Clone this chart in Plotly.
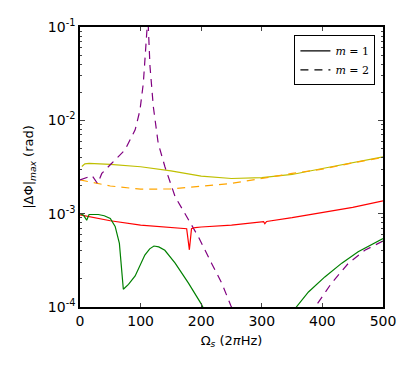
import plotly.graph_objects as go

# m=1 (solid) curves
x_yellow = [3, 8, 15, 50, 100, 150, 200, 250, 300, 350, 400, 450, 500]
y_yellow = [3.2e-3, 3.42e-3, 3.45e-3, 3.38e-3, 3.18e-3, 2.88e-3, 2.52e-3, 2.38e-3, 2.43e-3, 2.63e-3, 3.05e-3, 3.52e-3, 4.07e-3]

x_red = [0, 50, 100, 150, 170, 176, 180.5, 184, 190, 200, 250, 300, 303, 305, 308, 350, 400, 450, 500]
y_red = [9.7e-4, 8.4e-4, 7.55e-4, 7.1e-4, 7.0e-4, 6.9e-4, 4.1e-4, 6.9e-4, 7.1e-4, 7.2e-4, 7.55e-4, 8.15e-4, 8.2e-4, 7.8e-4, 8.25e-4, 9.05e-4, 1.02e-3, 1.17e-3, 1.37e-3]

x_green = [0, 6, 11, 15, 30, 40, 50, 58, 65, 71.5, 80, 91, 107, 115, 122, 130, 140, 157, 179, 200, 220, 250, 290, 330, 357, 377, 404, 432, 459, 500]
y_green = [1.0e-3, 9.6e-4, 8.5e-4, 9.8e-4, 9.8e-4, 9.5e-4, 8.9e-4, 7.3e-4, 4.8e-4, 1.55e-4, 1.75e-4, 2.15e-4, 3.6e-4, 4.2e-4, 4.5e-4, 4.4e-4, 4.05e-4, 2.95e-4, 1.8e-4, 1.08e-4, 6e-5, 3e-5, 2e-5, 4e-5, 1.0e-4, 1.45e-4, 2.1e-4, 2.95e-4, 3.9e-4, 5.4e-4]

# m=2 (dashed) curves
x_orange = [0, 25, 50, 100, 150, 200, 250, 300, 350, 400, 450, 500]
y_orange = [2.3e-3, 2.12e-3, 1.98e-3, 1.83e-3, 1.84e-3, 1.97e-3, 2.11e-3, 2.38e-3, 2.7e-3, 3.0e-3, 3.5e-3, 4.0e-3]

x_purple = [0, 20, 29, 36, 52, 74, 91, 99, 104.5, 108.5, 112, 115.5, 121, 129, 140, 157, 173, 195, 217, 234, 249, 280, 330, 388, 415, 443, 470, 500]
y_purple = [2.3e-3, 2.55e-3, 2.1e-3, 2.7e-3, 3.45e-3, 4.8e-3, 7.9e-3, 1.29e-2, 2.5e-2, 5.7e-2, 1.3e-1, 3.8e-2, 1.4e-2, 5.7e-3, 3.2e-3, 1.52e-3, 1.0e-3, 5.7e-4, 2.95e-4, 1.8e-4, 1.03e-4, 4e-5, 2e-5, 1.0e-4, 1.8e-4, 2.95e-4, 4.05e-4, 5.1e-4]

ytick_vals = [1e-4, 1e-3, 1e-2, 1e-1]
ytick_text = ["10<sup>-4</sup>", "10<sup>-3</sup>", "10<sup>-2</sup>", "10<sup>-1</sup>"]
minor_y = [k * 10.0 ** e for e in (-4, -3, -2) for k in range(2, 10)]

dash = "8px,6px"

fig = go.Figure()
fig.add_trace(go.Scatter(x=x_yellow, y=y_yellow, mode="lines", line=dict(color="#bfbf00", width=1.2), showlegend=False))
fig.add_trace(go.Scatter(x=x_orange, y=y_orange, mode="lines", line=dict(color="#ffa500", width=1.2, dash=dash), showlegend=False))
fig.add_trace(go.Scatter(x=x_purple, y=y_purple, mode="lines", line=dict(color="#800080", width=1.2, dash=dash), showlegend=False))
fig.add_trace(go.Scatter(x=x_red, y=y_red, mode="lines", line=dict(color="#ff0000", width=1.2), showlegend=False))
fig.add_trace(go.Scatter(x=x_green, y=y_green, mode="lines", line=dict(color="#008000", width=1.2), showlegend=False))

# legend entries (black)
fig.add_trace(go.Scatter(x=[None], y=[None], mode="lines", line=dict(color="black", width=1.2), name="<i>m</i> = 1"))
fig.add_trace(go.Scatter(x=[None], y=[None], mode="lines", line=dict(color="black", width=1.2, dash=dash), name="<i>m</i> = 2"))

# page body has an 8px default margin, so the figure is a bit smaller
fig.update_layout(
    width=407, height=361,
    margin=dict(l=72, r=32, t=19, b=62),
    paper_bgcolor="white", plot_bgcolor="white",
    font=dict(family="DejaVu Sans", size=14, color="black"),
    legend=dict(x=0.975, y=0.97, xanchor="right", yanchor="top",
                bordercolor="black", borderwidth=1, bgcolor="white",
                font=dict(family="DejaVu Serif", size=11), tracegroupgap=0),
)
fig.update_xaxes(
    range=[0, 500], tickvals=[0, 100, 200, 300, 400, 500], automargin=False,
    ticks="inside", ticklen=4, showgrid=False, zeroline=False,
    showline=True, linecolor="black", linewidth=1.5, mirror="ticks",
    title=dict(text="Ω<sub><i>s</i></sub> (2<i>π</i>Hz)", font=dict(size=13), standoff=8),
)
fig.update_yaxes(
    type="log", range=[-4, -1], tickvals=ytick_vals, ticktext=ytick_text, automargin=False,
    ticks="inside", ticklen=5, showgrid=False, zeroline=False,
    showline=True, linecolor="black", linewidth=1.5, mirror="ticks",
    minor=dict(tickvals=minor_y, ticks="inside", ticklen=2.5, showgrid=False),
    title=dict(text="|ΔΦ|<sub><i>max</i></sub> (rad)", font=dict(size=13), standoff=11),
)

fig.write_html("out.html")
